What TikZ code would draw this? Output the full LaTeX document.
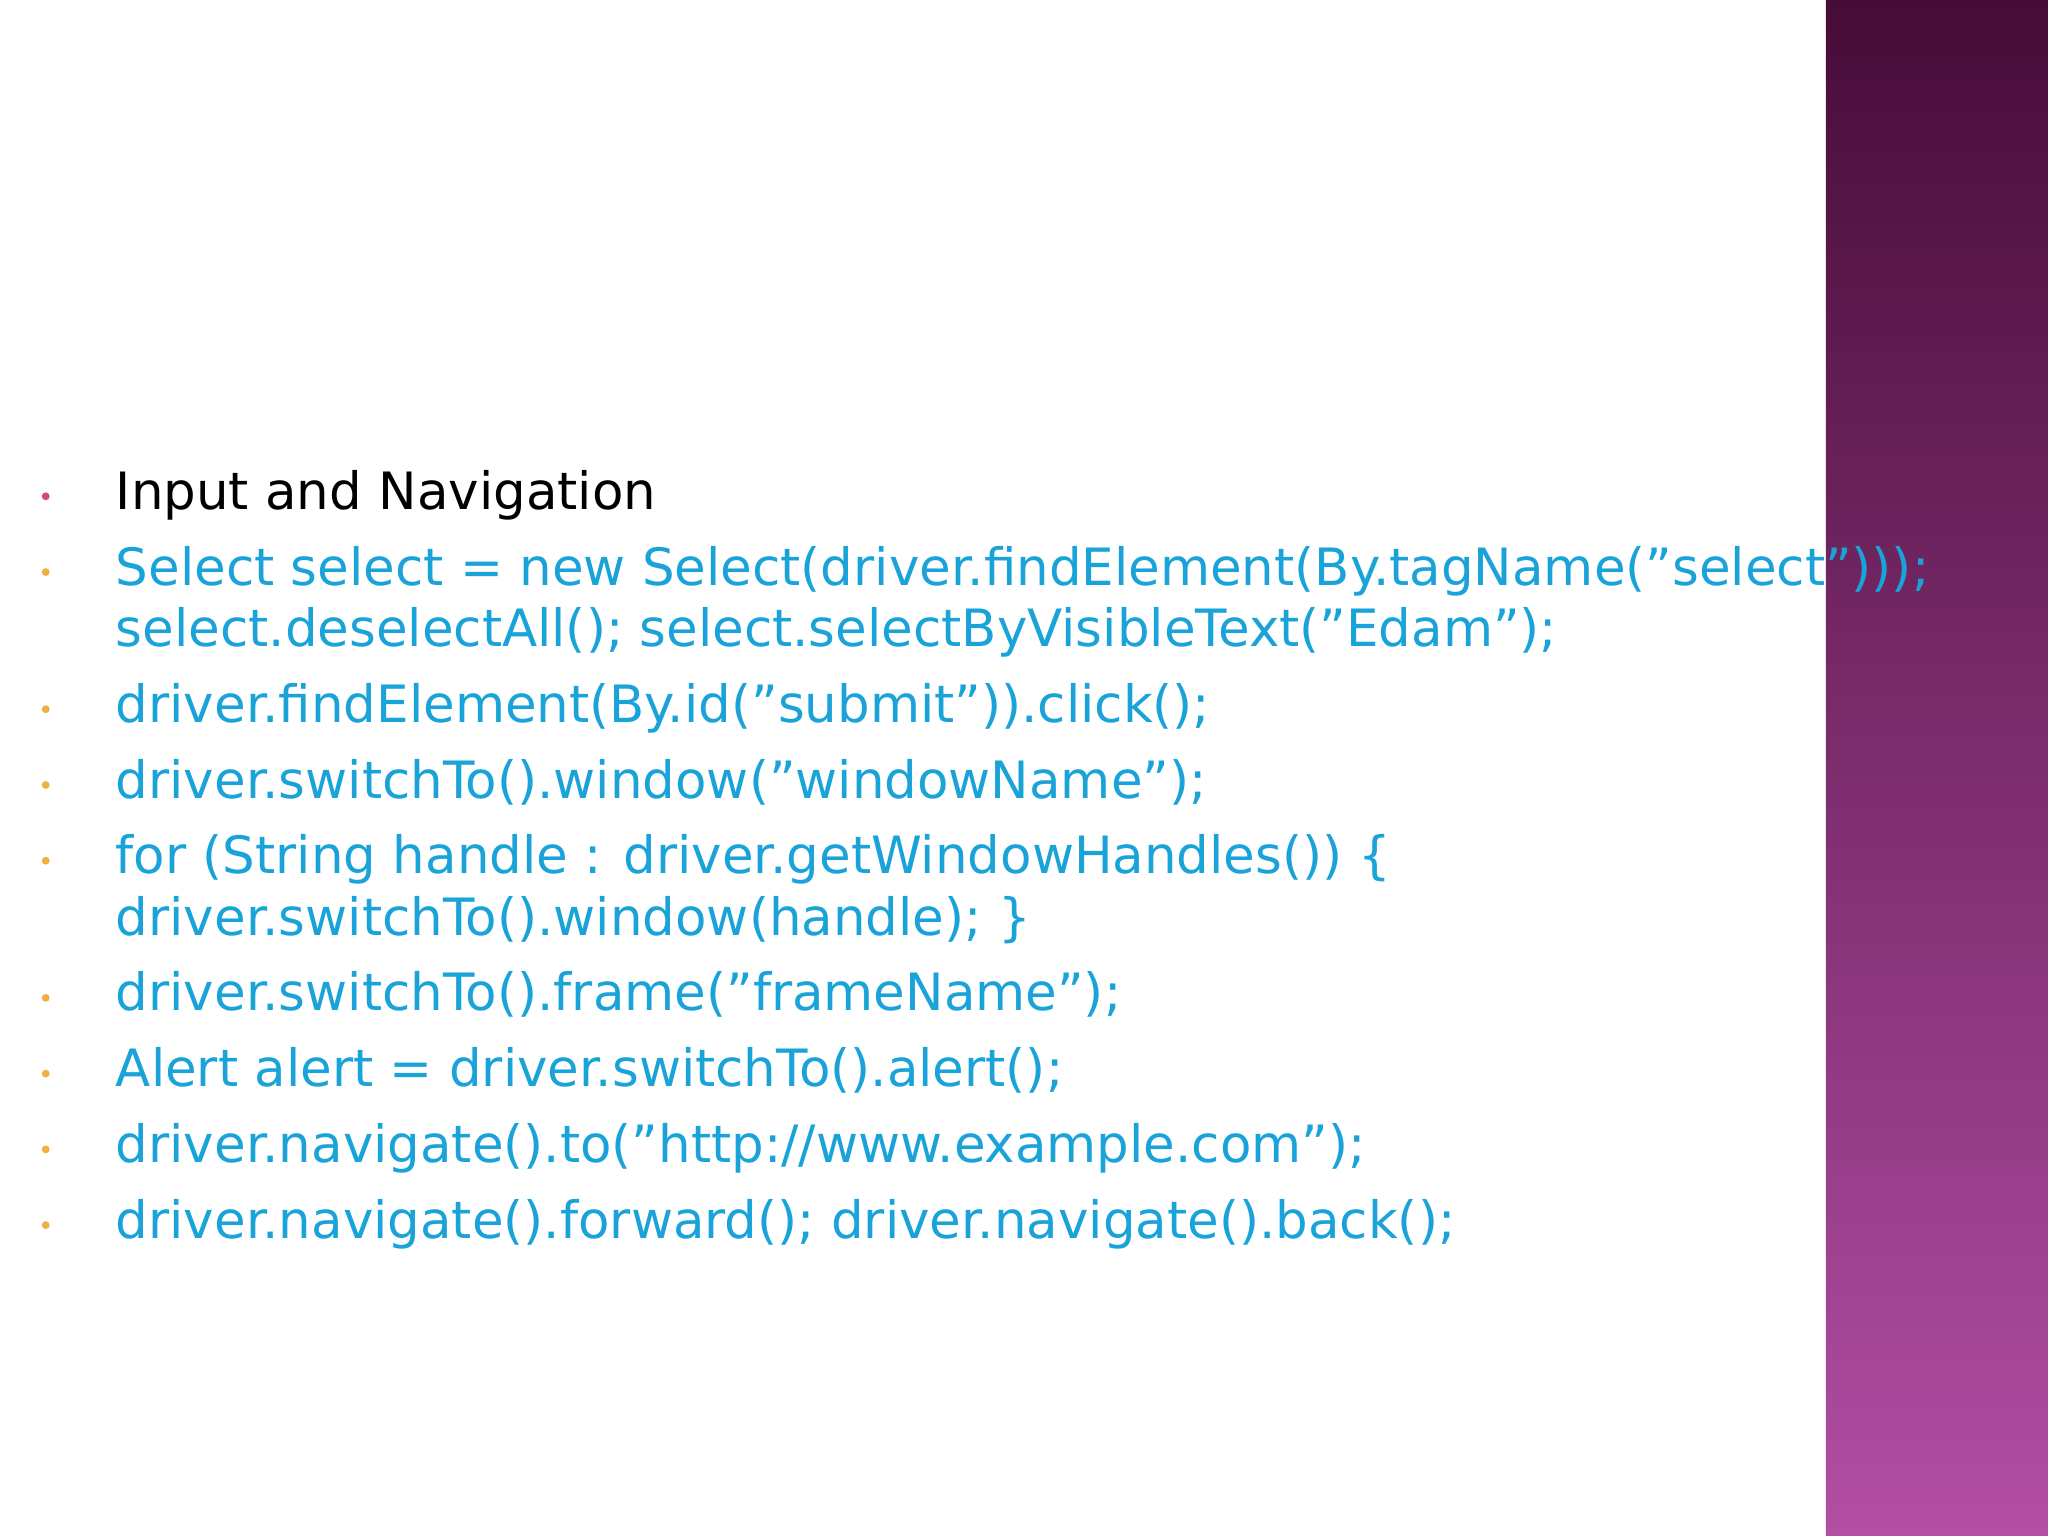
\documentclass[tikz,border=0pt]{standalone}
\usepackage{fontspec}
\setmainfont{DejaVu Sans}
\begin{document}
\begin{tikzpicture}[x=0.01cm,y=-0.01cm,
  code/.style={anchor=base west,inner sep=0pt,text=codeblue,font=\fontsize{11.2}{13}\selectfont},
  dot/.style={circle,fill=bulorange,inner sep=0pt,minimum size=0.06cm}]
\definecolor{codeblue}{HTML}{1AA3D9}
\definecolor{bulorange}{HTML}{F0B040}
\definecolor{topp}{HTML}{470C38}
\definecolor{botp}{HTML}{B24EA4}
\useasboundingbox (0,0) rectangle (1568,1176);
\fill[white] (0,0) rectangle (1568,1176);
\shade[top color=topp,bottom color=botp] (1398,0) rectangle (1568,1176);
\node[code,text=black] (t0) at (88,390) {Input and Navigation};
\node[dot,fill=purple!70] (b0) at (35,380) {};
\node[code] (t1) at (88,448) {Select select = new Select(driver.findElement(By.tagName("select")));};
\node[code] (t1b) at (88,495) {select.deselectAll(); select.selectByVisibleText("Edam");};
\node[code] (t2) at (88,553) {driver.findElement(By.id("submit")).click();};
\node[code] (t3) at (88,611) {driver.switchTo().window("windowName");};
\node[code] (t4) at (88,669) {for (String handle : driver.getWindowHandles()) \{};
\node[code] (t4b) at (88,716) {driver.switchTo().window(handle); \}};
\node[code] (t5) at (88,774) {driver.switchTo().frame("frameName");};
\node[code] (t6) at (88,832) {Alert alert = driver.switchTo().alert();};
\node[code] (t7) at (88,890) {driver.navigate().to("http://www.example.com");};
\node[code] (t8) at (88,948) {driver.navigate().forward(); driver.navigate().back();};
\foreach \y/\n in {438/b1,543/b2,601/b3,659/b4,764/b5,822/b6,880/b7,938/b8}
  \node[dot] (\n) at (35,\y) {};
\end{tikzpicture}
\end{document}
